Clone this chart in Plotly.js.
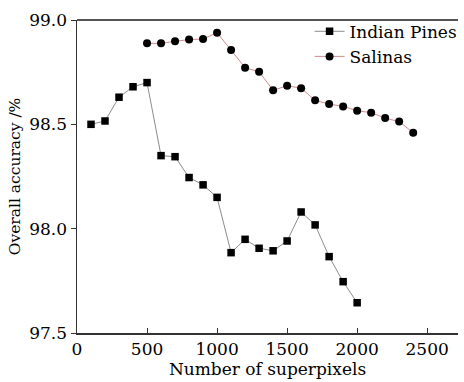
<!DOCTYPE html>
<html>
<head>
<meta charset="utf-8">
<script src="https://cdn.plot.ly/plotly-3.0.1.min.js"></script>
<style>html,body{margin:0;padding:0;background:#fff;}#chart{width:464px;height:382px;}</style>
</head>
<body>
<div id="chart"></div>
<script>
const indianX = [100,200,300,400,500,600,700,800,900,1000,1100,1200,1300,1400,1500,1600,1700,1800,1900,2000];
const indianY = [98.50,98.516,98.63,98.68,98.70,98.35,98.345,98.245,98.21,98.15,97.885,97.949,97.906,97.894,97.941,98.08,98.018,97.866,97.746,97.645];
const salinasX = [500,600,700,800,900,1000,1100,1200,1300,1400,1500,1600,1700,1800,1900,2000,2100,2200,2300,2400];
const salinasY = [98.888,98.888,98.898,98.906,98.909,98.939,98.856,98.771,98.752,98.663,98.685,98.673,98.615,98.597,98.586,98.565,98.556,98.530,98.513,98.46];
const xTicks = [0,500,1000,1500,2000,2500];
const yTicks = [97.5,98.0,98.5,99.0];
const yTickText = ['97.5','98.0','98.5','99.0'];

const fontFam = 'DejaVu Serif, serif';
const traces = [
  {x: indianX, y: indianY, name: 'Indian Pines', mode: 'lines+markers', type: 'scatter',
   line: {color: '#8c8c8c', width: 1}, marker: {symbol: 'square', size: 7.5, color: '#000'}},
  {x: salinasX, y: salinasY, name: 'Salinas', mode: 'lines+markers', type: 'scatter',
   line: {color: '#d48a8e', width: 1}, marker: {symbol: 'circle', size: 8, color: '#000'}}
];
const layout = {
  width: 464, height: 382,
  margin: {l: 77, r: 1, t: 20, b: 49},
  paper_bgcolor: '#fff', plot_bgcolor: '#fff',
  font: {family: fontFam, size: 17, color: '#000'},
  showlegend: true,
  legend: {x: 1.012, xanchor: 'right', y: 1.02, yanchor: 'top', bgcolor: 'rgba(0,0,0,0)',
           font: {family: fontFam, size: 17, color: '#000'}, tracegroupgap: 0, itemwidth: 30},
  xaxis: {range: [0, 2720], tickvals: xTicks, ticks: 'inside', ticklen: 5, tickcolor: '#333',
          showline: true, linecolor: '#333', linewidth: 1.5, mirror: false, showgrid: false, zeroline: false,
          tickfont: {family: fontFam, size: 17, color: '#000'},
          title: {text: 'Number of superpixels', font: {family: fontFam, size: 17, color: '#000'}, standoff: 2}},
  yaxis: {range: [97.5, 99.0], tickvals: yTicks, ticktext: yTickText, ticks: 'outside', ticklen: 5, tickcolor: '#333',
          showline: true, linecolor: '#333', linewidth: 1.5, showgrid: false, zeroline: false,
          tickfont: {family: fontFam, size: 17, color: '#000'},
          title: {text: 'Overall accuracy /%', font: {family: fontFam, size: 15.5, color: '#000'}, standoff: 5}},
  shapes: [{type: 'line', xref: 'paper', yref: 'paper', x0: 0, x1: 1, y0: 1, y1: 1, line: {color: '#555', width: 2}}]
};
Plotly.newPlot('chart', traces, layout, {displayModeBar: false, staticPlot: true});
</script>
</body>
</html>
